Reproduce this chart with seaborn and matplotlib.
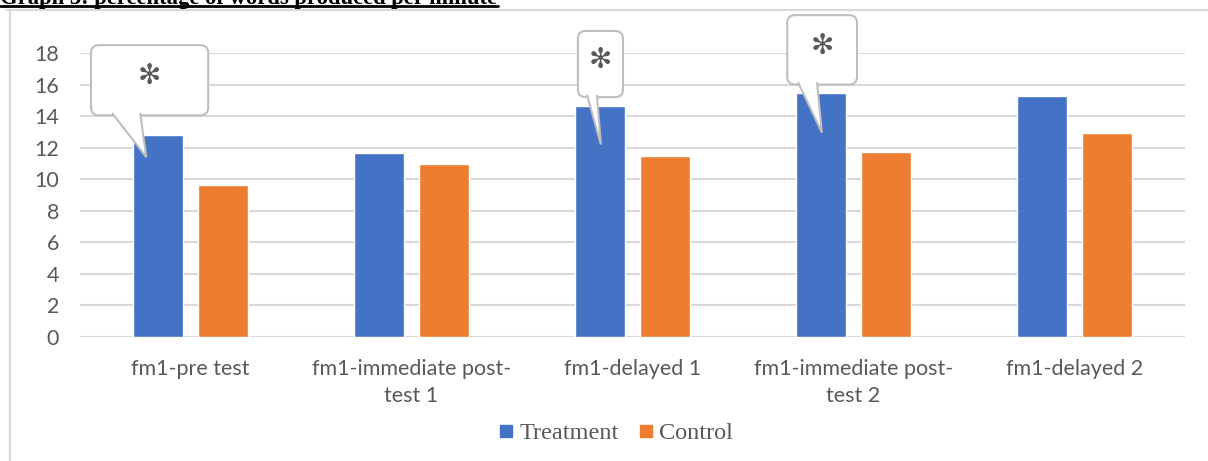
import matplotlib
matplotlib.use('agg')
import matplotlib.pyplot as plt
import seaborn as sns
import pandas as pd
from matplotlib.patches import FancyBboxPatch, Polygon
from matplotlib.lines import Line2D

# data
categories = ['fm1-pre test', 'fm1-immediate post-\ntest 1', 'fm1-delayed 1',
              'fm1-immediate post-\ntest 2', 'fm1-delayed 2']
treatment = [12.8, 11.65, 14.65, 15.45, 15.3]
control = [9.65, 10.95, 11.45, 11.75, 12.95]
groups = ['Treatment', 'Control']
colors = ['#4472C4', '#ED7D31']

# callouts with an asterisk: box (x0, x1, y0, y1), pointer base (xa, xb), tip (x, y)
callouts = [
    ((-0.45, 0.08, 14.05, 18.5), (-0.355, -0.228), (-0.20, 11.4)),
    ((1.753, 1.957, 15.2, 19.4), (1.794, 1.839), (1.857, 12.2)),
    ((2.70, 3.016, 16.0, 20.4), (2.749, 2.835), (2.857, 12.95)),
]

df = pd.DataFrame({
    'cat': categories * 2,
    'value': treatment + control,
    'group': ['Treatment'] * len(categories) + ['Control'] * len(categories),
})

sns.set_style('white')
plt.rcParams['font.family'] = ['Lato', 'DejaVu Sans']

W, H = 1208, 461
fig = plt.figure(figsize=(W / 100, H / 100), dpi=100)
ax = fig.add_axes([80 / W, (H - 337) / H, 1105 / W, 284 / H])

sns.barplot(data=df, x='cat', y='value', hue='group', hue_order=groups,
            palette=colors, width=0.58, gap=0.22, saturation=1, ax=ax,
            legend=False, zorder=3)

ax.set_ylim(0, 18)
ax.set_xlim(-0.5, 4.5)
ax.set_yticks(range(0, 19, 2))
ax.yaxis.grid(True, color='#d9d9d9', linewidth=1.5, zorder=0)
ax.set_axisbelow(True)
for s in ax.spines.values():
    s.set_visible(False)
ax.set_xlabel('')
ax.set_ylabel('')
ax.tick_params(axis='y', length=0, pad=15, labelsize=15.5, labelcolor='#595959')
ax.tick_params(axis='x', length=0, pad=16, labelsize=15.5, labelcolor='#595959')
for lab in ax.get_xticklabels():
    lab.set_linespacing(1.4)

# speech-bubble callouts
edge = '#bfbfbf'
for (x0, x1, y0, y1), (xa, xb), (tx, ty) in callouts:
    box = FancyBboxPatch((x0, y0), x1 - x0, y1 - y0,
                         boxstyle='round,pad=0,rounding_size=0.036',
                         mutation_aspect=14, facecolor='white', edgecolor=edge,
                         linewidth=1.5, clip_on=False, zorder=5)
    ax.add_patch(box)
    ptr = Polygon([(xa, y0 + 0.15), (tx, ty), (xb, y0 + 0.15)], closed=False,
                  facecolor='white', edgecolor=edge, linewidth=1.5,
                  clip_on=False, zorder=6)
    ax.add_patch(ptr)
    ax.text((x0 + x1) / 2, (y0 + y1) / 2 + 0.25, '\u273b', ha='center',
            va='center', fontsize=20, color='#595959', family='DejaVu Sans',
            zorder=7, clip_on=False)

# legend
handles = [Line2D([], [], marker='s', linestyle='', markersize=8.5,
                  markerfacecolor=c, markeredgecolor=c) for c in colors]
fig.legend(handles, groups, loc='center', bbox_to_anchor=(0.51, 0.06), ncol=2,
           frameon=False, handlelength=0.6, handletextpad=0.25,
           columnspacing=0.8,
           prop={'family': 'Liberation Serif', 'size': 17.5},
           labelcolor='#595959')

# chart frame (top and left edges)
fig.add_artist(Line2D([7 / W, 1], [1 - 10 / H] * 2, color='#d9d9d9', lw=1.5))
fig.add_artist(Line2D([10 / W] * 2, [0, 1 - 10 / H], color='#d9d9d9', lw=1.5))

# title, cut off at the top like the reference
title = fig.text(0.0, 1 - 4 / H, 'Graph 3: percentage of words produced per minute',
                 family='Liberation Serif', weight='bold', fontsize=15,
                 ha='left', va='baseline', color='black')
fig.canvas.draw()
bb = title.get_window_extent()
title.set_fontsize(15 * 498 / bb.width)
fig.add_artist(Line2D([0, 498 / W], [1 - 6.5 / H] * 2, color='black', lw=2))

fig.savefig('out.png', dpi=100)
